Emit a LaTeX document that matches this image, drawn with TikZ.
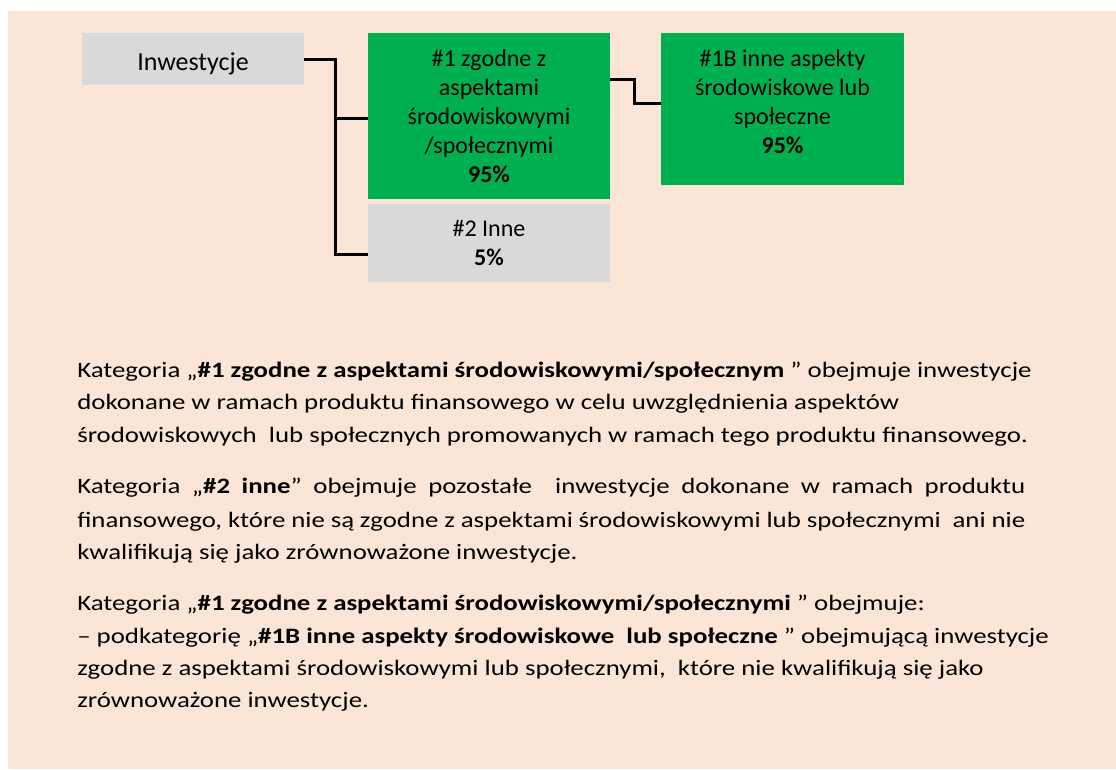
\documentclass[tikz,border=0pt]{standalone}
\usepackage{fontspec}
\setmainfont{Carlito}
\newfontfamily\bodyfont[FakeStretch=1.22]{Carlito}
\usetikzlibrary{positioning}
\definecolor{peach}{HTML}{FBE5D6}
\definecolor{boxgreen}{HTML}{00B050}
\definecolor{boxgrey}{HTML}{D9D9D9}

\begin{document}
\begin{tikzpicture}[x=0.75pt,y=-0.75pt,
  catbox/.style={rectangle,inner sep=0pt,align=center,font=\fontsize{18}{21.75}\selectfont},
  link/.style={line width=2.25pt,black},
  bodyline/.style={anchor=base west,inner sep=0pt,font=\bodyfont\fontsize{16.5}{20}\selectfont}]
  \useasboundingbox (0,0) rectangle (1116,769);
  \fill[peach] (8,11) rectangle (1116,769);
  % tree of categories
  \node[catbox,fill=boxgrey,minimum width=166.5pt,minimum height=39pt,text height=21pt,font=\fontsize{19.5}{24}\selectfont] (inv) at (193,59) {Inwestycje};
  \node[catbox,fill=boxgreen,minimum width=181.5pt,minimum height=124.5pt] (g1) at (489,116) {\#1 zgodne z\\aspektami\\środowiskowymi\\/społecznymi\\\textbf{95\%}};
  \node[catbox,fill=boxgrey,minimum width=181.5pt,minimum height=58.5pt] (g2) at (489,243) {\#2 Inne\\\textbf{5\%}};
  \node[catbox,fill=boxgreen,minimum width=182.25pt,minimum height=114pt] (g1b) at (782.5,109) {\#1B inne aspekty\\środowiskowe lub\\społeczne\\\textbf{95\%}\rule[-11pt]{0pt}{0pt}};
  \coordinate (split) at (335,118);
  \coordinate (jog) at (634,91);
  \draw[link] (inv.east) -| (split) |- ([yshift=-8.25pt]g2.west);
  \draw[link] (split) -- (g1.west |- split);
  \draw[link] ([yshift=27.75pt]g1.east) -| (jog) |- ([yshift=4.5pt]g1b.west);
  % explanations
  \node[bodyline] (p1a) at (77,377) {Kategoria „\textbf{\#1 zgodne z aspektami środowiskowymi/społecznym} ” obejmuje inwestycje};
  \node[bodyline] (p1b) at (77,409) {dokonane w ramach produktu finansowego w celu uwzględnienia aspektów};
  \node[bodyline] (p1c) at (77,442) {środowiskowych\ \ lub społecznych promowanych w ramach tego produktu finansowego.};
  \node[bodyline] (p2a) at (77,493) {\makebox[711pt][s]{Kategoria „\textbf{\#2 inne}” obejmuje pozostałe\ \ inwestycje dokonane w ramach produktu}};
  \node[bodyline] (p2b) at (77,527) {\makebox[711pt][s]{finansowego, które nie są zgodne z aspektami środowiskowymi lub społecznymi\ \ ani nie}};
  \node[bodyline] (p2c) at (77,559) {kwalifikują się jako zrównoważone inwestycje.};
  \node[bodyline] (p3a) at (77,610) {Kategoria „\textbf{\#1 zgodne z aspektami środowiskowymi/społecznymi} ” obejmuje:};
  \node[bodyline] (p3b) at (77,643) {– podkategorię „\textbf{\#1B inne aspekty środowiskowe\ \ lub społeczne} ” obejmującą inwestycje};
  \node[bodyline] (p3c) at (77,675) {zgodne z aspektami środowiskowymi lub społecznymi,\ \ które nie kwalifikują się jako};
  \node[bodyline] (p3d) at (77,707) {zrównoważone inwestycje.};
\end{tikzpicture}
\end{document}
